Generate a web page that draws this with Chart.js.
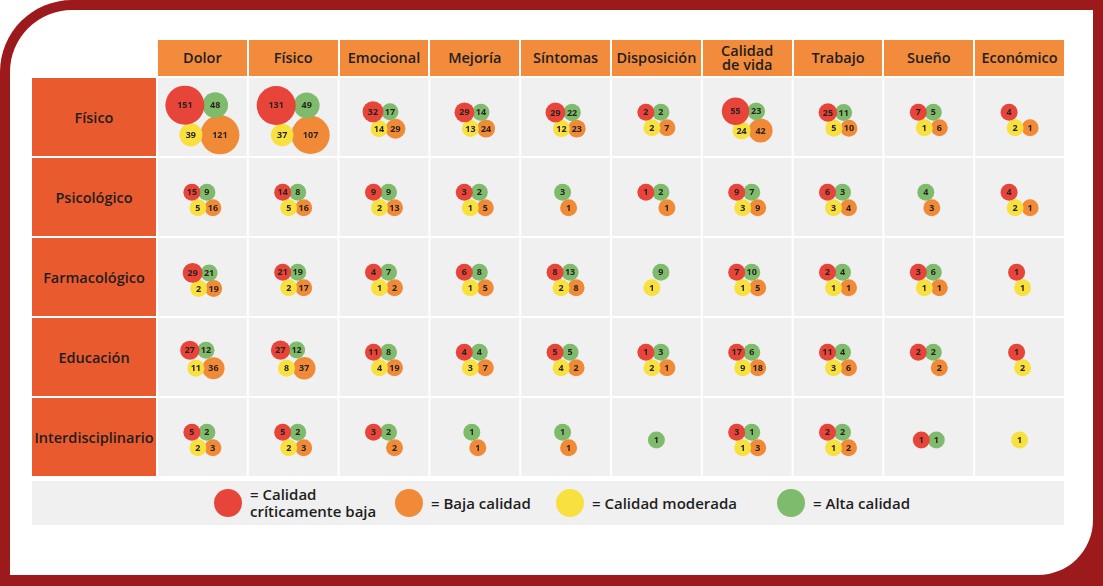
<!DOCTYPE html>
<html>
<head>
<meta charset="utf-8">
<script src="https://cdn.jsdelivr.net/npm/chart.js@4.4.0/dist/chart.umd.min.js"></script>
<style>
  html, body { margin: 0; padding: 0; background: #fff; }
  body { width: 1103px; height: 586px; position: relative; overflow: hidden;
         font-family: "Open Sans", "Noto Sans", sans-serif; color: #1e1e1e; }
  #frame { position: absolute; left: 0; top: 0; width: 1103px; height: 586px;
           background: #9c1a1c; border-top-left-radius: 72px; }
  #page { position: absolute; left: 10px; top: 10px; width: 1083px; height: 565px;
          background: #fff; border-top-left-radius: 62px; border-bottom-right-radius: 55px; }
  .head { position: absolute; top: 40px; height: 36px; background: #f28b3c;
          display: flex; align-items: center; justify-content: center; text-align: center;
          font-size: 14.5px; font-weight: 600; line-height: 14px; }
  .rowlab { position: absolute; left: 32px; width: 124px; background: #e95b2f;
            display: flex; align-items: center; justify-content: center;
            font-size: 14.5px; font-weight: 600; }
  #chartBox { position: absolute; left: 157px; top: 77px; width: 908px; height: 400px; }
  #legend { position: absolute; left: 32px; top: 481px; width: 1032px; height: 44px; background: #f0f0f0; }
  .lg { position: absolute; top: 0; height: 44px; display: flex; align-items: center;
        font-size: 15px; font-weight: 600; line-height: 17px; }
  .dot { width: 28px; height: 28px; border-radius: 50%; margin-right: 8px; flex: none; }
</style>
</head>
<body>
<div id="frame"></div>
<div id="page"></div>
<div id="heads"></div>
<div id="rowlabs"></div>
<div id="chartBox"><canvas id="grid" width="908" height="400"></canvas></div>
<div id="legend"></div>

<script>
// categorias
const columns = ['Dolor', 'Físico', 'Emocional', 'Mejoría', 'Síntomas', 'Disposición', 'Calidad de vida', 'Trabajo', 'Sueño', 'Económico'];
const rows = ['Físico', 'Psicológico', 'Farmacológico', 'Educación', 'Interdisciplinario'];

// valores por fila (null = sin burbuja)
const criticaBaja = [
    [151, 131, 32, 29, 29, 2, 55, 25, 7, 4],
    [15, 14, 9, 3, null, 1, 9, 6, null, 4],
    [29, 21, 4, 6, 8, null, 7, 2, 3, 1],
    [27, 27, 11, 4, 5, 1, 17, 11, 2, 1],
    [5, 5, 3, null, null, null, 3, 2, 1, null]
];
const bajaCalidad = [
    [121, 107, 29, 24, 23, 7, 42, 10, 6, 1],
    [16, 16, 13, 5, 1, 1, 9, 4, 3, 1],
    [19, 17, 2, 5, 8, null, 5, 1, 1, null],
    [36, 37, 19, 7, 2, 1, 18, 6, 2, null],
    [3, 3, 2, 1, 1, null, 3, 2, null, null]
];
const moderada = [
    [39, 37, 14, 13, 12, 2, 24, 5, 1, 2],
    [5, 5, 2, 1, null, null, 3, 3, null, 2],
    [2, 2, 1, 1, 2, 1, 1, 1, 1, 1],
    [11, 8, 4, 3, 4, 2, 9, 3, null, 2],
    [2, 2, null, null, null, null, 1, 1, null, 1]
];
const altaCalidad = [
    [48, 49, 17, 14, 22, 2, 23, 11, 5, null],
    [9, 8, 9, 2, 3, 2, 7, 3, 4, null],
    [21, 19, 7, 8, 13, 9, 10, 4, 6, null],
    [12, 12, 8, 4, 5, 3, 6, 4, 2, null],
    [2, 2, 2, 1, 1, 1, 1, 2, 1, null]
];

const legendLabels = ['= Calidad<br>críticamente baja', '= Baja calidad', '= Calidad moderada', '= Alta calidad'];
const colors = { red: '#e8453a', orange: '#f08a36', yellow: '#f8e03e', green: '#7fbb6c' };

const CELL_W = 90.8, CELL_H = 80;

// encabezados y etiquetas de fila
const heads = document.getElementById('heads');
columns.forEach((c, i) => {
    const d = document.createElement('div');
    d.className = 'head';
    d.style.left = (157 + i * CELL_W + 1) + 'px';
    d.style.width = (CELL_W - 2) + 'px';
    d.innerHTML = c === 'Calidad de vida' ? 'Calidad<br>de vida' : c;
    heads.appendChild(d);
});
const rowlabs = document.getElementById('rowlabs');
rows.forEach((r, j) => {
    const d = document.createElement('div');
    d.className = 'rowlab';
    d.style.top = (77 + j * CELL_H + 1) + 'px';
    d.style.height = (CELL_H - 2) + 'px';
    d.textContent = r;
    rowlabs.appendChild(d);
});

// leyenda
const legendPos = [214, 395, 556, 777];
const legendCols = [colors.red, colors.orange, colors.yellow, colors.green];
const legend = document.getElementById('legend');
legendLabels.forEach((t, k) => {
    const d = document.createElement('div');
    d.className = 'lg';
    d.style.left = (legendPos[k] - 32) + 'px';
    d.innerHTML = `<span class="dot" style="background:${legendCols[k]}"></span><span>${t}</span>`;
    legend.appendChild(d);
});

// radio de la burbuja segun el valor
function radiusOf(v) {
    return Math.max(8.5, Math.min(19.5, 1.85 * Math.sqrt(v)));
}

// posiciones dentro de cada celda: rojo arriba-izq, verde arriba-der, amarillo abajo-izq, naranja abajo-der
function cellLayout(j, i) {
    const vals = {
        red: criticaBaja[j][i], green: altaCalidad[j][i],
        yellow: moderada[j][i], orange: bajaCalidad[j][i]
    };
    const r = {};
    for (const k in vals) r[k] = vals[k] == null ? 8.5 : radiusOf(vals[k]);
    const pos = {};
    pos.red = { x: 0, y: 0 };
    pos.green = { x: r.red + r.green - 2, y: 0 };
    const sep = Math.max((r.green + r.orange) * 0.92, (r.red + r.yellow) * 0.9 - 2);
    pos.yellow = { x: 6, y: sep };
    pos.orange = { x: 6 + r.yellow + r.orange - 2, y: sep };
    // centrar el grupo de burbujas presentes
    let x0 = Infinity, x1 = -Infinity, y0 = Infinity, y1 = -Infinity;
    for (const k in vals) {
        if (vals[k] == null) continue;
        x0 = Math.min(x0, pos[k].x - r[k]); x1 = Math.max(x1, pos[k].x + r[k]);
        y0 = Math.min(y0, pos[k].y - r[k]); y1 = Math.max(y1, pos[k].y + r[k]);
    }
    const cx = (x0 + x1) / 2, cy = (y0 + y1) / 2 - 3;
    const out = {};
    for (const k in vals) {
        if (vals[k] == null) continue;
        out[k] = { x: i + (pos[k].x - cx) / CELL_W, y: j + (pos[k].y - cy) / CELL_H, r: r[k], v: vals[k] };
    }
    return out;
}

const points = { red: [], green: [], yellow: [], orange: [] };
rows.forEach((_, j) => {
    columns.forEach((_, i) => {
        const cell = cellLayout(j, i);
        for (const k in cell) points[k].push(cell[k]);
    });
});

// fondo gris de cada celda
const cellBg = {
    id: 'cellBg',
    beforeDatasetsDraw(chart) {
        const { ctx, scales: { x, y } } = chart;
        ctx.save();
        ctx.fillStyle = '#f0f0f0';
        for (let i = 0; i < columns.length; i++) {
            for (let j = 0; j < rows.length; j++) {
                const l = x.getPixelForValue(i - 0.5) + 1, rr = x.getPixelForValue(i + 0.5) - 1;
                const t = y.getPixelForValue(j - 0.5) + 1, b = y.getPixelForValue(j + 0.5) - 1;
                ctx.fillRect(l, t, rr - l, b - t);
            }
        }
        ctx.restore();
    }
};

// numeros dentro de las burbujas
const bubbleLabels = {
    id: 'bubbleLabels',
    afterDatasetsDraw(chart) {
        const { ctx } = chart;
        ctx.save();
        ctx.fillStyle = '#2a2420';
        ctx.textAlign = 'center';
        ctx.textBaseline = 'middle';
        ctx.font = 'bold 9px "Open Sans", sans-serif';
        chart.data.datasets.forEach((ds, di) => {
            chart.getDatasetMeta(di).data.forEach((el, idx) => {
                ctx.fillText(String(ds.data[idx].v), el.x, el.y + 0.5);
            });
        });
        ctx.restore();
    }
};

new Chart(document.getElementById('grid'), {
    type: 'bubble',
    data: {
        datasets: [
            { label: 'Calidad críticamente baja', data: points.red, backgroundColor: colors.red },
            { label: 'Calidad moderada', data: points.yellow, backgroundColor: colors.yellow },
            { label: 'Alta calidad', data: points.green, backgroundColor: colors.green },
            { label: 'Baja calidad', data: points.orange, backgroundColor: colors.orange }
        ]
    },
    options: {
        responsive: false,
        animation: false,
        events: [],
        layout: { padding: 0, autoPadding: false },
        clip: false,
        elements: { point: { borderWidth: 0, hoverBorderWidth: 0 } },
        plugins: { legend: { display: false }, tooltip: { enabled: false } },
        scales: {
            x: { type: 'linear', min: -0.5, max: 9.5, display: false },
            y: { type: 'linear', min: -0.5, max: 4.5, reverse: true, display: false }
        }
    },
    plugins: [cellBg, bubbleLabels]
});
</script>
</body>
</html>
